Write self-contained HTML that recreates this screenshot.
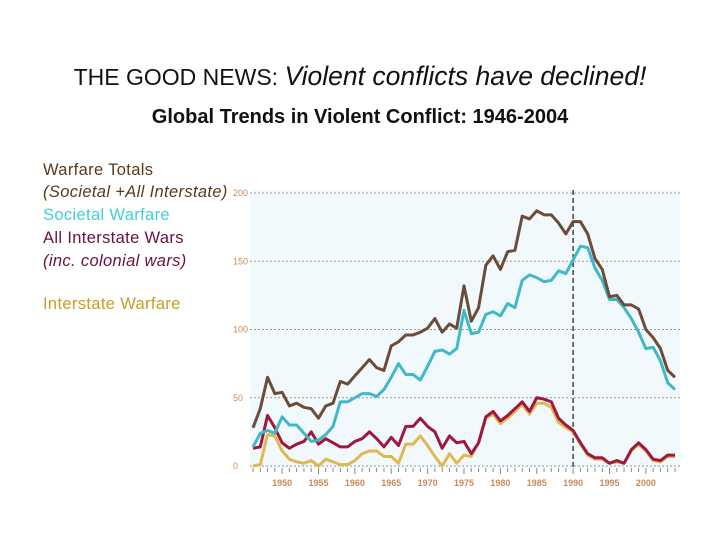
<!DOCTYPE html>
<html><head><meta charset="utf-8"><style>
body{margin:0;background:#fff;width:720px;height:540px;overflow:hidden;position:relative;font-family:"Liberation Sans",sans-serif}
.t{position:absolute;white-space:nowrap}
.lg{position:absolute;left:43px;font-size:16.5px;line-height:20px;white-space:nowrap;letter-spacing:0.35px}
</style></head><body>
<div class="t" style="left:0;width:720px;text-align:center;top:61px;font-size:23px;color:#111">THE GOOD NEWS: <span style="font-style:italic;font-size:26.5px">Violent conflicts have declined!</span></div>
<div class="t" style="left:0;width:720px;text-align:center;top:106px;font-size:20px;font-weight:bold;color:#111">Global Trends in Violent Conflict: 1946-2004</div>
<div class="lg" style="top:160px;color:#5a3a1a">Warfare Totals</div>
<div class="lg" style="top:182px;color:#5a3a1a;font-style:italic">(Societal +All Interstate)</div>
<div class="lg" style="top:205px;color:#40d0d8">Societal Warfare</div>
<div class="lg" style="top:228px;color:#6a1040">All Interstate Wars</div>
<div class="lg" style="top:251px;color:#6a1040;font-style:italic">(inc. colonial wars)</div>
<div class="lg" style="top:294px;color:#c8a020">Interstate Warfare</div>
<svg id="c" width="720" height="540" style="position:absolute;left:0;top:0"></svg>
<script>
const years=[];for(let y=1946;y<=2004;y++)years.push(y);
const totals=[28,42,65,53,54,44,46,43,42,35,44,46,62,60,66,72,78,72,70,88,91,96,96,98,101,108,98,104,101,132,106,116,147,154,144,157,158,183,181,187,184,184,178,170,179,179,170,152,144,124,125,118,118,115,100,94,86,70,65];
const societal=[14,24,26,24,36,30,30,24,18,19,23,29,47,47,50,53,53,51,56,65,75,67,67,63,73,84,85,82,86,114,97,98,111,113,110,119,116,136,140,138,135,136,143,141,151,161,160,145,136,122,122,116,108,98,86,87,77,61,56];
const allInter=[13,14,37,28,17,13,16,18,25,16,20,17,14,14,18,20,25,20,14,21,15,29,29,35,29,25,13,22,17,18,9,17,36,40,33,37,42,47,40,50,49,47,35,30,26,17,9,6,6,2,4,2,12,17,12,5,4,8,8];
const inter=[0,1,23,22,11,5,3,2,4,0,5,3,1,1,4,9,11,11,7,7,2,16,16,22,15,7,0,9,2,8,7,17,35,38,31,35,40,45,38,46,46,43,32,28,25,16,8,5,5,2,3,2,11,16,11,4,3,7,7];
const yTicks=[0,50,100,150,200];
const xTicks=[1950,1955,1960,1965,1970,1975,1980,1985,1990,1995,2000];
const NS='http://www.w3.org/2000/svg',svg=document.getElementById('c');
const X=y=>253+(y-1946)*(422/58), Y=v=>466-v*1.365;
function el(t,a){const e=document.createElementNS(NS,t);for(const k in a)e.setAttribute(k,a[k]);svg.appendChild(e);return e;}
let bg=el('rect',{x:250,y:190,width:430,height:278,fill:'#f2f9fc'});


yTicks.forEach(v=>{
 let g=el('line',{x1:250,x2:680,y1:Y(v),y2:Y(v),stroke:'#999','stroke-dasharray':'2,2','stroke-width':1});
 
 
 let t=el('text',{x:233,y:Y(v)+3,'font-size':9,fill:'#c8895a','font-family':'Liberation Sans'});t.textContent=v;
 
 
});
years.forEach(y=>{let m=el('line',{x1:X(y),x2:X(y),y1:468,y2:(y%5==0?474:472),stroke:'#888','stroke-width':1});
 
 });
xTicks.forEach(y=>{let t=el('text',{x:X(y),y:486,'font-size':9,fill:'#c8895a','text-anchor':'middle','font-weight':'bold','font-family':'Liberation Sans'});t.textContent=y;
 
 });
let vl=el('line',{x1:X(1990),x2:X(1990),y1:190,y2:468,stroke:'#444','stroke-dasharray':'5,3','stroke-width':1.5});


function line(arr,col,name){const p=el('polyline',{points:arr.map((v,i)=>X(years[i])+','+Y(v)).join(' '),fill:'none',stroke:col,'stroke-width':3,'stroke-linejoin':'round'});
 
 }
line(inter,'#e0b850','line-interstate');
line(allInter,'#a01840','line-all-interstate');
line(societal,'#40b8c8','line-societal');
line(totals,'#6b4c38','line-totals');
</script>
</body></html>
